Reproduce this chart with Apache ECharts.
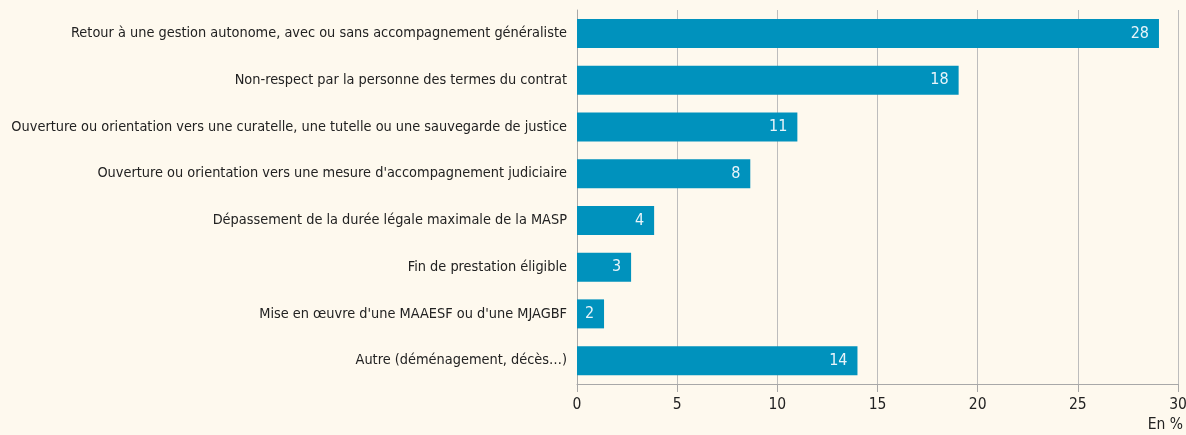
<!DOCTYPE html>
<html>
<head>
<meta charset="utf-8">
<script src="https://cdn.jsdelivr.net/npm/echarts@6/dist/echarts.min.js"></script>
<style>
  html, body { margin: 0; padding: 0; background: #fef9ee; }
  #chart { width: 1186px; height: 435px; }
</style>
</head>
<body>
<div id="chart"></div>
<script>
// catégories, du haut vers le bas
var categories = [
  'Retour à une gestion autonome, avec ou sans accompagnement généraliste',
  'Non-respect par la personne des termes du contrat',
  'Ouverture ou orientation vers une curatelle, une tutelle ou une sauvegarde de justice',
  "Ouverture ou orientation vers une mesure d'accompagnement judiciaire",
  'Dépassement de la durée légale maximale de la MASP',
  'Fin de prestation éligible',
  "Mise en œuvre d'une MAAESF ou d'une MJAGBF",
  'Autre (déménagement, décès…)'
];
var values = [29.05, 19.05, 11.0, 8.65, 3.85, 2.7, 1.35, 14.0];
// étiquettes affichées dans les barres
var shownLabels = ['28', '18', '11', '8', '4', '3', '2', '14'];
var xTicks = [0, 5, 10, 15, 20, 25, 30];

var font = '"Liberation Sans Narrow", "DejaVu Sans Condensed", "Liberation Sans", sans-serif';

var myChart = echarts.init(document.getElementById('chart'));
myChart.setOption({
  backgroundColor: '#fef9ee',
  animation: false,
  textStyle: { fontFamily: font },
  grid: { left: 577, right: 8, top: 10, bottom: 51, containLabel: false, outerBoundsMode: 'none' },
  xAxis: {
    type: 'value',
    min: xTicks[0],
    max: xTicks[xTicks.length - 1],
    interval: 5,
    axisLine: { show: true, lineStyle: { color: '#a8a8a8', width: 1 } },
    axisTick: { show: true, length: 8, lineStyle: { color: '#a8a8a8' } },
    axisLabel: { color: '#222', fontSize: 15.5, margin: 13, fontFamily: font },
    splitLine: { show: true, lineStyle: { color: '#bdbdbd', width: 1 } },
    name: 'En %',
    nameLocation: 'end',
    nameGap: 5,
    nameTextStyle: {
      color: '#222', fontSize: 15.5, fontFamily: font,
      align: 'right', verticalAlign: 'top', padding: [33, 0, 0, 0]
    }
  },
  yAxis: {
    type: 'category',
    inverse: true,
    data: categories,
    axisLine: { show: true, lineStyle: { color: '#a8a8a8', width: 1 } },
    axisTick: { show: false },
    axisLabel: { color: '#222', fontSize: 14.4, margin: 10, fontFamily: font },
    splitLine: { show: false }
  },
  series: [{
    type: 'bar',
    data: values,
    barWidth: 29,
    itemStyle: { color: '#0092bd' },
    label: {
      show: true,
      position: 'insideRight',
      distance: 10,
      color: '#e8f4fa',
      fontSize: 16,
      fontFamily: font,
      formatter: function (p) { return shownLabels[p.dataIndex]; }
    }
  }]
});
</script>
</body>
</html>
